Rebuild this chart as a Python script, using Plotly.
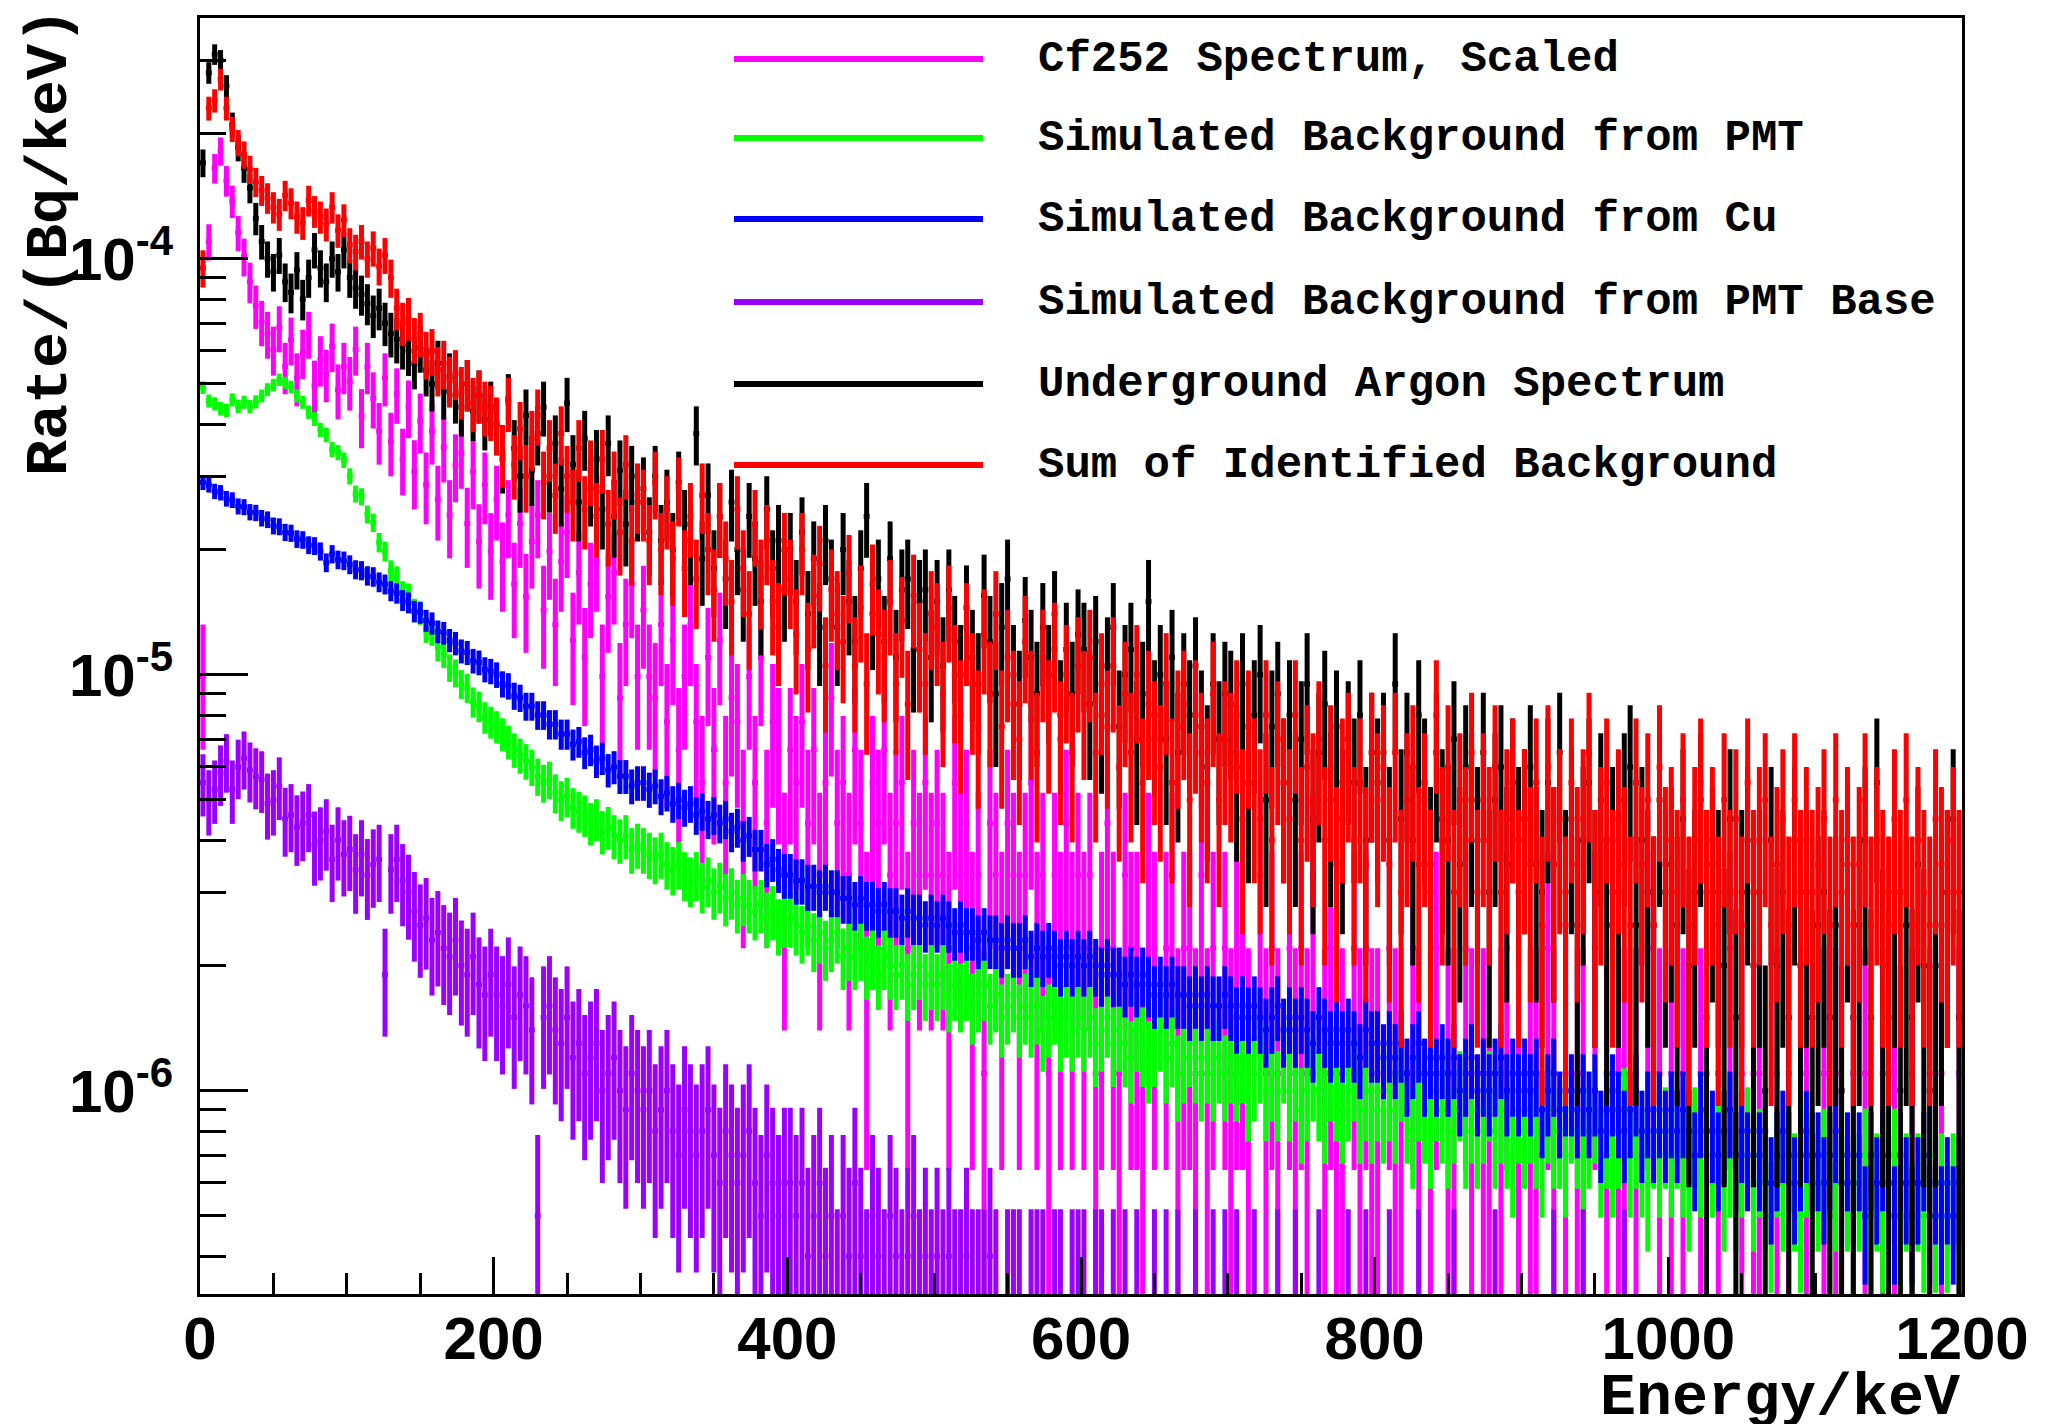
import numpy as np
import plotly.graph_objects as go

# ---------------------------------------------------------------------------
# Energy binning: 4 keV bins from 0 to 1200 keV
# ---------------------------------------------------------------------------
BIN_KEV = 4.0
N_BINS = 300
energy_kev = BIN_KEV * (np.arange(N_BINS) + 0.5)

RATE_UNIT = 1e-7  # Bq/keV represented by one unit in the rate tables below

# Underground argon spectrum (units of 1e-7 Bq/keV), one row per 100 keV
argon_rate = [
    1700, 2800, 3100, 3000, 2600, 2100, 1850, 1650, 1480, 1250, 1100, 1000, 930, 1020, 880, 830, 940, 800, 900, 1050, 950, 880, 1000, 930, 1050,
    900, 850, 820, 780, 730, 760, 700, 660, 640, 620, 600, 560, 610, 540, 500, 560, 480, 520, 470, 440, 500, 430, 470, 410, 440,
    400, 330, 460, 350, 300, 420, 310, 380, 440, 300, 360, 280, 450, 320, 260, 370, 280, 330, 250, 360, 240, 310, 230, 300, 260,
    280, 220, 300, 210, 260, 200, 290, 230, 210, 380, 190, 270, 180, 240, 170, 260, 200, 160, 240, 190, 150, 250, 180, 210, 160,
    200, 150, 220, 140, 190, 130, 210, 170, 130, 200, 150, 120, 180, 240, 140, 170, 120, 190, 110, 160, 170, 115, 150, 160, 110,
    150, 105, 160, 120, 100, 145, 110, 95, 155, 120, 90, 130, 170, 100, 85, 135, 110, 90, 130, 100, 140, 80, 115, 90, 125,
    115, 85, 120, 80, 105, 130, 75, 100, 115, 70, 90, 150, 80, 100, 70, 110, 65, 95, 80, 105, 75, 60, 95, 70, 90,
    85, 60, 95, 55, 80, 100, 50, 75, 90, 55, 80, 50, 70, 95, 45, 65, 85, 50, 75, 45, 70, 55, 80, 40, 65,
    55, 65, 40, 95, 45, 65, 40, 80, 55, 35, 65, 45, 40, 70, 35, 60, 50, 40, 65, 30, 50, 60, 35, 55, 40,
    45, 60, 35, 30, 55, 35, 65, 30, 45, 25, 40, 55, 30, 50, 25, 40, 30, 50, 60, 25, 40, 30, 25, 50, 30,
    35, 25, 45, 20, 30, 50, 15, 35, 30, 20, 45, 15, 30, 40, 20, 30, 10, 40, 20, 30, 15, 40, 20, 30, 15,
    25, 30, 15, 25, 10, 35, 15, 25, 40, 15, 55, 20, 15, 30, 10, 25, 15, 35, 20, 10, 20, 25, 30, 45, 15,
]

# Sum of identified backgrounds (units of 1e-7 Bq/keV)
sum_rate = [
    950, 2300, 2400, 2700, 2300, 2050, 1900, 1780, 1640, 1530, 1460, 1400, 1330, 1280, 1420, 1360, 1260, 1220, 1380, 1300, 1260, 1210, 1330, 1170, 1240,
    1080, 1040, 1100, 1000, 1060, 960, 1020, 900, 760, 700, 720, 640, 660, 590, 600, 540, 560, 510, 530, 480, 500, 450, 470, 440, 430,
    400, 340, 450, 320, 390, 300, 370, 420, 290, 350, 270, 380, 300, 260, 350, 250, 310, 240, 330, 230, 290, 220, 320, 210, 270,
    260, 210, 290, 200, 250, 190, 280, 180, 240, 170, 270, 200, 160, 240, 190, 150, 250, 180, 140, 230, 170, 210, 150, 130, 200,
    170, 125, 200, 115, 155, 185, 105, 160, 140, 120, 175, 105, 145, 95, 165, 125, 110, 150, 95, 135, 85, 155, 115, 95, 140,
    130, 90, 145, 100, 80, 130, 95, 75, 125, 90, 140, 75, 110, 85, 70, 120, 85, 65, 110, 80, 115, 70, 100, 65, 105,
    85, 110, 65, 95, 75, 105, 60, 90, 65, 100, 55, 85, 70, 60, 95, 55, 75, 85, 50, 80, 65, 55, 90, 50, 70,
    65, 80, 45, 75, 55, 45, 80, 40, 70, 55, 45, 80, 40, 60, 50, 70, 40, 60, 35, 55, 65, 40, 55, 35, 65,
    50, 60, 35, 65, 30, 50, 60, 35, 50, 30, 80, 40, 60, 30, 50, 40, 65, 30, 50, 40, 60, 30, 45, 55, 30,
    45, 35, 55, 25, 60, 35, 45, 25, 55, 35, 45, 65, 30, 40, 55, 30, 45, 35, 25, 55, 35, 50, 25, 60, 35,
    40, 30, 50, 25, 40, 55, 30, 40, 25, 50, 30, 45, 25, 55, 30, 40, 50, 25, 35, 45, 25, 50, 30, 40, 30,
    35, 45, 25, 50, 30, 40, 25, 35, 50, 25, 40, 30, 25, 45, 30, 50, 25, 40, 30, 25, 45, 35, 30, 40, 30,
]

# Cf252 calibration spectrum, raw counts per bin (scaled to rate below)
cf252_counts = [
    9, 100, 150, 165, 140, 125, 105, 92, 80, 70, 64, 60, 55, 62, 50, 58, 47, 54, 60, 45, 52, 48, 56, 44, 50,
    46, 55, 38, 50, 42, 35, 47, 33, 43, 30, 40, 28, 37, 26, 35, 24, 32, 22, 29, 31, 21, 28, 19, 26, 18,
    24, 17, 22, 15, 21, 14, 19, 22, 13, 18, 12, 17, 20, 11, 16, 10, 15, 17, 9, 14, 16, 8, 12, 15, 9,
    13, 9, 8, 12, 7, 11, 6, 9, 12, 7, 5, 10, 6, 11, 5, 8, 7, 4, 9, 5, 10, 4, 7, 6, 3,
    6, 5, 7, 4, 6, 3, 5, 8, 4, 5, 3, 6, 4, 2, 5, 4, 6, 3, 4, 5, 2, 4, 3, 5, 3,
    4, 3, 2, 5, 3, 4, 2, 3, 1, 4, 3, 2, 4, 3, 2, 3, 5, 2, 3, 1, 3, 2, 4, 2, 3,
    2, 3, 1, 2, 4, 2, 1, 3, 2, 2, 1, 3, 2, 0, 2, 3, 1, 2, 2, 1, 3, 1, 2, 0, 2,
    1, 2, 2, 1, 0, 3, 1, 2, 1, 0, 2, 1, 2, 1, 3, 0, 1, 2, 1, 1, 0, 2, 1, 2, 1,
    1, 0, 2, 1, 1, 0, 2, 1, 0, 1, 2, 0, 1, 1, 0, 2, 1, 0, 1, 1, 0, 1, 2, 0, 1,
    0, 1, 1, 0, 2, 1, 0, 1, 0, 1, 1, 0, 2, 0, 1, 0, 1, 1, 0, 1, 0, 2, 0, 1, 0,
    1, 0, 1, 0, 0, 1, 1, 0, 1, 0, 2, 0, 1, 0, 1, 1, 0, 0, 1, 0, 1, 0, 0, 1, 0,
    0, 1, 0, 1, 0, 0, 1, 0, 1, 0, 0, 1, 0, 1, 0, 0, 1, 0, 0, 1, 0, 1, 0, 0, 1,
]
CF252_RATE_PER_COUNT = 1.1e-6  # Bq/keV per Cf252 count after scaling

# Simulated background from the PMTs (units of 1e-7 Bq/keV)
pmt_rate = [
    490, 455, 448, 436, 432, 458, 442, 452, 441, 453, 468, 485, 497, 512, 503, 492, 468, 452, 428, 412, 388, 377, 348, 342, 328,
    300, 272, 268, 243, 232, 208, 198, 178, 172, 158, 156, 143, 141, 128, 126, 116, 112, 104, 101, 95, 93, 86, 84, 79, 77,
    75, 72, 69, 66, 64, 62, 60, 57, 55, 56, 52, 50, 51, 48, 47, 46, 44, 45, 42, 43, 41, 40, 41, 38, 39,
    38, 37, 36, 37, 35, 34, 35, 33, 32, 33, 31, 32, 30, 31, 29, 30, 28, 29, 28, 27, 28, 26, 27, 25, 26,
    26, 25, 24, 25, 23, 24, 22, 23, 24, 21, 22, 21, 22, 20, 21, 19, 21, 20, 19, 20, 18, 19, 20, 18, 19,
    18, 19, 17, 18, 17, 18, 16, 17, 18, 16, 17, 15, 16, 17, 15, 16, 15, 16, 14, 15, 16, 14, 15, 14, 15,
    14, 15, 13, 14, 15, 13, 14, 13, 12, 14, 13, 12, 13, 14, 12, 13, 11, 12, 13, 12, 11, 12, 11, 12, 11,
    12, 11, 12, 10, 11, 12, 10, 11, 10, 12, 10, 11, 9, 10, 11, 10, 9, 11, 10, 9, 10, 11, 9, 10, 9,
    10, 9, 10, 9, 11, 9, 8, 10, 9, 8, 10, 9, 8, 9, 10, 8, 9, 8, 9, 10, 8, 9, 8, 7, 9,
    8, 9, 8, 7, 9, 8, 8, 7, 9, 8, 7, 8, 9, 7, 8, 7, 8, 9, 7, 8, 7, 6, 8, 7, 8,
    7, 8, 7, 6, 8, 7, 6, 7, 8, 6, 7, 6, 7, 8, 6, 7, 6, 5, 7, 6, 7, 6, 5, 7, 6,
    6, 7, 5, 6, 7, 6, 5, 6, 7, 5, 6, 5, 6, 7, 5, 6, 5, 6, 5, 7, 5, 6, 5, 6, 5,
]

# Simulated background from copper (units of 1e-7 Bq/keV)
cu_rate = [
    290, 286, 276, 274, 265, 263, 254, 253, 246, 245, 238, 236, 228, 227, 220, 219, 212, 211, 205, 204, 198, 186, 195, 189, 188,
    184, 179, 178, 173, 172, 167, 165, 159, 157, 151, 149, 142, 141, 135, 133, 127, 126, 121, 119, 114, 113, 108, 107, 103, 102,
    100, 95, 94, 89, 88, 84, 84, 80, 80, 76, 76, 72, 72, 68, 69, 65, 66, 62, 63, 59, 60, 57, 57, 54, 55,
    55, 53, 54, 51, 52, 49, 50, 48, 49, 46, 47, 45, 46, 44, 45, 42, 43, 40, 41, 38, 38, 35, 36, 34, 33,
    33, 32, 32, 31, 31, 30, 31, 30, 30, 29, 29, 28, 29, 28, 28, 27, 28, 27, 27, 26, 27, 26, 26, 25, 26,
    25, 26, 25, 24, 25, 24, 24, 23, 24, 23, 23, 22, 23, 22, 22, 23, 21, 22, 21, 22, 21, 20, 21, 20, 21,
    20, 21, 20, 19, 20, 19, 19, 18, 19, 18, 19, 18, 17, 18, 17, 18, 17, 17, 16, 17, 16, 17, 16, 16, 17,
    16, 15, 16, 15, 16, 15, 14, 15, 16, 14, 15, 14, 15, 14, 13, 15, 14, 13, 14, 13, 14, 13, 12, 14, 13,
    13, 12, 13, 12, 13, 11, 12, 13, 11, 12, 11, 12, 11, 12, 10, 11, 12, 10, 11, 10, 11, 12, 10, 11, 10,
    11, 10, 11, 9, 10, 11, 9, 10, 10, 9, 10, 9, 10, 8, 9, 10, 9, 8, 9, 10, 8, 9, 8, 9, 8,
    9, 8, 9, 8, 7, 9, 8, 8, 7, 8, 9, 7, 8, 7, 8, 7, 8, 6, 7, 8, 7, 6, 7, 8, 7,
    7, 6, 7, 8, 6, 7, 6, 7, 5, 7, 6, 7, 6, 5, 7, 6, 5, 6, 7, 5, 6, 5, 6, 5, 6,
]

# Simulated background from the PMT bases (units of 1e-7 Bq/keV)
pmt_base_rate = [
    55, 50, 53, 58, 62, 53, 60, 63, 59, 57, 56, 49, 50, 54, 45, 46, 43, 44, 46, 39, 40, 42, 36, 40, 37,
    38, 34, 37, 33, 35, 36, 19, 34, 36, 32, 30, 27, 25, 26, 23, 24, 22, 21, 23, 20, 19, 21, 18, 17, 19,
    17, 16, 18, 15, 17, 16, 14, 5, 15, 16, 14, 13, 15, 12, 13, 11, 12, 13, 10, 11, 12, 10, 9, 11, 10,
    9, 10, 8, 9, 10, 8, 7, 9, 8, 7, 8, 9, 7, 6, 8, 7, 6, 7, 8, 6, 5, 7, 6, 5, 6,
    6, 5, 6, 4, 5, 6, 4, 5, 3, 5, 4, 6, 4, 3, 5, 4, 3, 5, 4, 3, 4, 5, 3, 4, 3,
    4, 3, 4, 3, 3, 4, 3, 3, 3, 4, 3, 0, 3, 3, 3, 0, 3, 3, 3, 0, 3, 3, 0, 3, 3,
    3, 0, 3, 3, 0, 3, 0, 3, 0, 3, 0, 0, 3, 0, 3, 0, 3, 0, 0, 3, 0, 0, 3, 0, 3,
    0, 3, 0, 0, 3, 0, 0, 0, 3, 0, 0, 3, 0, 0, 0, 3, 0, 0, 0, 0, 3, 0, 0, 3, 0,
    0, 0, 3, 0, 0, 0, 0, 3, 0, 0, 0, 0, 0, 3, 0, 0, 0, 0, 0, 0, 3, 0, 0, 0, 0,
    0, 0, 0, 0, 0, 3, 0, 0, 0, 0, 3, 0, 0, 0, 0, 0, 0, 3, 0, 0, 0, 0, 0, 0, 0,
    0, 0, 0, 0, 0, 0, 0, 0, 0, 0, 0, 0, 0, 0, 0, 0, 0, 0, 0, 0, 0, 0, 0, 0, 0,
    0, 0, 0, 0, 0, 0, 0, 0, 0, 0, 0, 0, 0, 0, 0, 0, 0, 0, 0, 0, 0, 0, 0, 0, 0,
]

# Rate carried by a single entry of each histogram (sets the Poisson error bars)
ARGON_WEIGHT = 1.0e-6
SUM_WEIGHT = 1.0e-6
PMT_WEIGHT = 6e-8
CU_WEIGHT = 5e-8
BASE_WEIGHT = 1.6e-7

legend_labels = [
    "Cf252 Spectrum, Scaled",
    "Simulated Background from PMT",
    "Simulated Background from Cu",
    "Simulated Background from PMT Base",
    "Underground Argon Spectrum",
    "Sum of Identified Background",
]
legend_colors = ["#FF00FF", "#00FF00", "#0000FF", "#9900FF", "#000000", "#FF0000"]

# Axis tick labels
x_tick_values = [0, 200, 400, 600, 800, 1000, 1200]
y_tick_values = [1e-6, 1e-5, 1e-4]
y_tick_labels = ["10<sup>-6</sup>", "10<sup>-5</sup>", "10<sup>-4</sup>"]

for arr in (argon_rate, sum_rate, cf252_counts, pmt_rate, cu_rate, pmt_base_rate):
    assert len(arr) == N_BINS, len(arr)

BAR_PX = 5  # stroke width of the histogram error bars


def hist_trace(rate_bq, weight, color):
    """Histogram drawn ROOT-style: vertical Poisson error + horizontal bin width."""
    y = np.asarray(rate_bq, dtype=float)
    err = np.sqrt(np.clip(y, 0, None) * weight)
    y_list = [v if v > 0 else None for v in y]
    return go.Scatter(
        x=energy_kev.tolist(),
        y=y_list,
        mode="markers",
        marker=dict(size=2, color=color),
        error_y=dict(type="data", array=err.tolist(), symmetric=True,
                     color=color, thickness=BAR_PX, width=0),
        error_x=dict(type="constant", value=BIN_KEV / 2, color=color,
                     thickness=BAR_PX, width=0),
        showlegend=False,
        hoverinfo="skip",
    )


cf252_rate_bq = np.asarray(cf252_counts, float) * CF252_RATE_PER_COUNT
fig = go.Figure()
fig.add_trace(hist_trace(cf252_rate_bq, CF252_RATE_PER_COUNT, legend_colors[0]))
fig.add_trace(hist_trace(np.asarray(pmt_rate, float) * RATE_UNIT, PMT_WEIGHT, legend_colors[1]))
fig.add_trace(hist_trace(np.asarray(cu_rate, float) * RATE_UNIT, CU_WEIGHT, legend_colors[2]))
fig.add_trace(hist_trace(np.asarray(pmt_base_rate, float) * RATE_UNIT, BASE_WEIGHT, legend_colors[3]))
fig.add_trace(hist_trace(np.asarray(argon_rate, float) * RATE_UNIT, ARGON_WEIGHT, legend_colors[4]))
fig.add_trace(hist_trace(np.asarray(sum_rate, float) * RATE_UNIT, SUM_WEIGHT, legend_colors[5]))

# ---------------------------------------------------------------------------
# Layout (pixel geometry of the frame)
# ---------------------------------------------------------------------------
W, H = 2047, 1424
L, R, T, B = 200, 1962, 18, 1294


def px_x(px):
    return (px - L) / (R - L)


def px_y(py):
    return (B - py) / (B - T)


tick_font = dict(family="Liberation Sans, Arial, sans-serif", size=60, color="black", weight="bold")
mono = "Liberation Mono, Courier New, monospace"

y_minor_ticks = [k * 10.0 ** e for e in range(-7, -3) for k in range(2, 10)]

shapes = []
annotations = []
legend_rows_px = [59, 138, 219, 302, 384, 465]
for label, color, ypx in zip(legend_labels, legend_colors, legend_rows_px):
    shapes.append(dict(type="line", xref="paper", yref="paper",
                       x0=px_x(734), x1=px_x(983), y0=px_y(ypx), y1=px_y(ypx),
                       line=dict(color=color, width=6)))
    annotations.append(dict(text=label, xref="paper", yref="paper",
                            x=px_x(1036), y=px_y(ypx), xanchor="left", yanchor="middle",
                            showarrow=False,
                            font=dict(family=mono, size=44, color="black", weight="bold")))

annotations.append(dict(text="Energy/keV", xref="paper", yref="paper",
                        x=1.0, y=px_y(1398), xanchor="right", yanchor="middle",
                        showarrow=False,
                        font=dict(family=mono, size=60, color="black", weight="bold")))
annotations.append(dict(text="Rate/(Bq/keV)", xref="paper", yref="paper",
                        x=px_x(50), y=px_y(6), xanchor="center", yanchor="top",
                        textangle=-90, showarrow=False,
                        font=dict(family=mono, size=60, color="black", weight="bold")))

fig.update_layout(
    width=W, height=H,
    margin=dict(l=L, r=W - R, t=T, b=H - B, pad=0),
    paper_bgcolor="white", plot_bgcolor="white",
    showlegend=False,
    shapes=shapes,
    annotations=annotations,
    xaxis=dict(
        range=[0, 1200], tickmode="array", tickvals=x_tick_values,
        showline=True, linecolor="black", linewidth=3, mirror=True,
        ticks="inside", ticklen=37, tickwidth=3, tickcolor="black",
        minor=dict(dtick=50, tick0=0, ticks="inside", ticklen=21, tickwidth=3, tickcolor="black"),
        showgrid=False, zeroline=False,
        tickfont=tick_font, ticklabelstandoff=-10,
    ),
    yaxis=dict(
        type="log", range=[-6.4887, -3.4214],
        tickmode="array", tickvals=y_tick_values, ticktext=y_tick_labels,
        showline=True, linecolor="black", linewidth=3, mirror=True,
        ticks="inside", ticklen=48, tickwidth=3, tickcolor="black",
        minor=dict(tickmode="array", tickvals=y_minor_ticks, ticks="inside",
                   ticklen=26, tickwidth=3, tickcolor="black"),
        showgrid=False, zeroline=False,
        tickfont=tick_font, ticklabelstandoff=12,
    ),
)

fig.write_html("out.html")
